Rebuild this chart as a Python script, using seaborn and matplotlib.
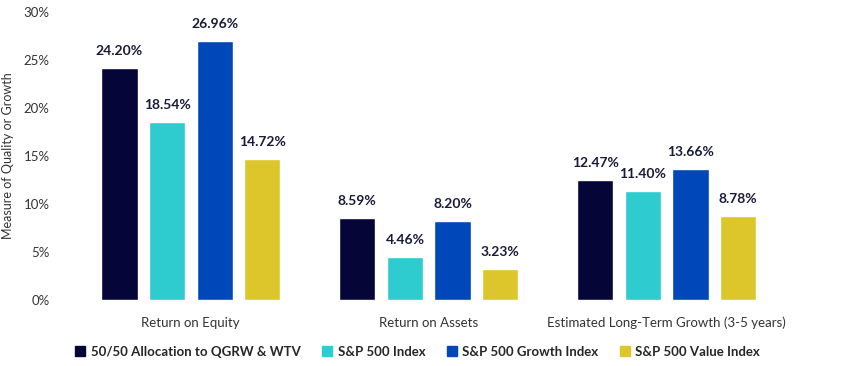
import pandas as pd
import seaborn as sns
import matplotlib.pyplot as plt
from matplotlib.lines import Line2D

# Chart data
metrics = ["Return on Equity", "Return on Assets", "Estimated Long-Term Growth (3-5 years)"]
series = ["50/50 Allocation to QGRW & WTV", "S&P 500 Index", "S&P 500 Growth Index", "S&P 500 Value Index"]
qgrw_wtv = [24.20, 8.59, 12.47]
sp500 = [18.54, 4.46, 11.40]
sp500_growth = [26.96, 8.20, 13.66]
sp500_value = [14.72, 3.23, 8.78]

colors = ["#050538", "#2ecbcf", "#0047b9", "#dcc62c"]

rows = []
for name, vals in zip(series, [qgrw_wtv, sp500, sp500_growth, sp500_value]):
    for m, v in zip(metrics, vals):
        rows.append({"Metric": m, "Series": name, "Value": v})
df = pd.DataFrame(rows)

sns.set_style("white")
plt.rcParams["font.family"] = ["Lato", "DejaVu Sans"]

fig = plt.figure(figsize=(8.49, 3.66), dpi=100)
ax = fig.add_axes([0.065, 0.18, 0.88, 0.787])

sns.barplot(data=df, x="Metric", y="Value", hue="Series", palette=colors,
            width=0.8, gap=0.24, ax=ax, legend=False, saturation=1)

for cont in ax.containers:
    ax.bar_label(cont, labels=[f"{b.get_height():.2f}%" for b in cont],
                 padding=8, fontsize=10, fontweight="bold", color="#1a1a3a")

ax.set_ylim(0, 30)
ax.set_xlim(-0.57, 2.57)
ax.set_yticks(range(0, 31, 5))
ax.set_yticklabels([f"{t}%" for t in range(0, 31, 5)], fontsize=9.5, color="#333333")
ax.tick_params(axis="x", labelsize=9.5, colors="#333333", length=0, pad=12)
ax.tick_params(axis="y", length=0, pad=4)
ax.set_xlabel("")
ax.set_ylabel("Measure of Quality or Growth", fontsize=9, color="#333333")
ax.yaxis.set_label_coords(-0.055, 0.5)
sns.despine(ax=ax, left=True, bottom=True)

handles = [Line2D([], [], marker="s", linestyle="", markersize=7, color=c) for c in colors]
fig.legend(handles, series, loc="center", bbox_to_anchor=(0.492, 0.038), ncol=4,
           frameon=False, handlelength=0.8, handletextpad=0.4, columnspacing=1.6,
           prop={"weight": "bold", "size": 9.5})

fig.savefig("out.png", dpi=100)
